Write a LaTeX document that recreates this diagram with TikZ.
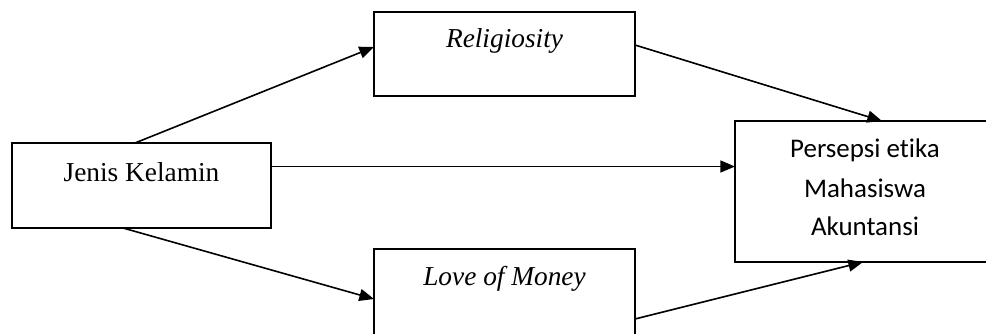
\documentclass[tikz,border=0pt]{standalone}
\usepackage{fontspec}
\setmainfont{Liberation Serif}
\newfontfamily\calibrifont[Ligatures=NoCommon]{Carlito}
\usetikzlibrary{arrows.meta,calc}
\begin{document}
\begin{tikzpicture}[x=0.75pt,y=-0.75pt,
  box/.style={draw, line width=1.2pt, anchor=north west, inner sep=0pt, outer sep=0pt},
  arr/.style={-{Triangle[length=11pt,width=9pt]}, line width=1.2pt},
  lbl/.style={anchor=base, inner sep=0pt, font=\fontsize{20.5}{27}\selectfont},
  clbl/.style={anchor=base, inner sep=0pt, font=\calibrifont\fontsize{20.2}{27}\selectfont}]
\clip (0,0) rectangle (986,333);
\fill[white] (0,0) rectangle (986,333);
% boxes
\node[box, minimum width=194.25pt, minimum height=63.75pt] (jk) at (12,143) {};
\node[box, minimum width=195.75pt, minimum height=63pt] (rel) at (374,12) {};
\node[box, minimum width=195.75pt, minimum height=75pt] (love) at (374,249) {};
\node[box, minimum width=198.75pt, minimum height=105.75pt] (per) at (735,121) {};
% texts
\node[lbl] (tjk) at (141.5,181) {Jenis Kelamin};
\node[lbl] (trel) at (504.5,47) {\itshape Religiosity};
\node[lbl] (tlove) at (504.5,285) {\itshape Love of Money};
\node[clbl] (tp1) at (865,157) {Persepsi etika};
\node[clbl] (tp2) at (865,197) {Mahasiswa};
\node[clbl] (tp3) at (865,235) {Akuntansi};
% arrows
\draw[arr] ($(jk.north west)+(123,0)$) -- ($(rel.north west)+(0,35)$);
\draw[arr] ($(rel.north east)+(0,33)$) -- ($(per.north west)+(147,0)$);
\draw[arr] ($(jk.north east)+(0,23.5)$) -- ($(per.north west)+(0,45.5)$);
\draw[arr] ($(jk.south west)+(111,0)$) -- ($(love.north west)+(0,50)$);
\draw[arr] ($(love.north east)+(0,70)$) -- ($(per.south west)+(128,0)$);
\end{tikzpicture}
\end{document}
